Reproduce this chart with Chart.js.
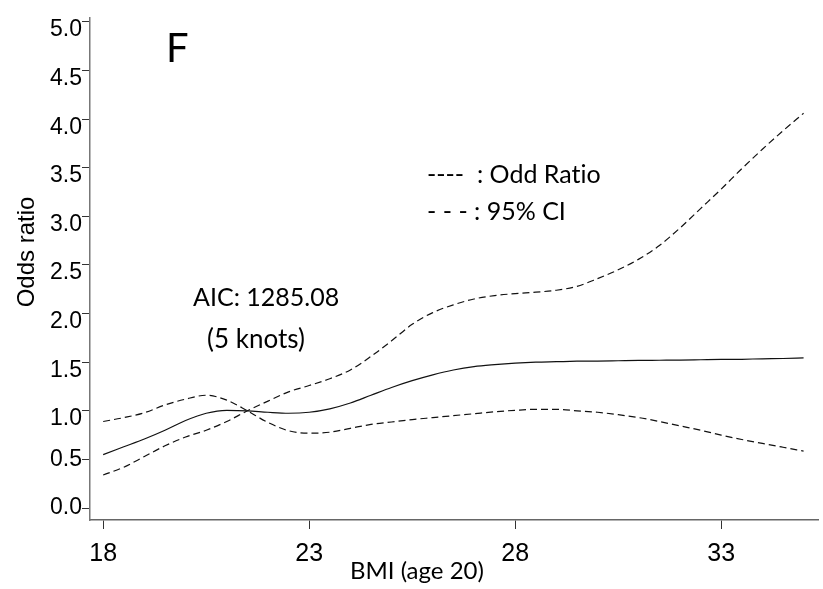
<!DOCTYPE html>
<html>
<head>
<meta charset="utf-8">
<script src="https://cdn.jsdelivr.net/npm/chart.js@4.4.0/dist/chart.umd.min.js"></script>
<style>
  html, body { margin: 0; padding: 0; background: #fff; }
  canvas { display: block; }
</style>
</head>
<body>
<canvas id="splineChart" width="823" height="589"></canvas>
<script>
// BMI at age 20 (x values)
const bmi = [18, 18.5, 19, 19.5, 20, 20.5, 21, 21.5, 22, 22.5, 23, 23.5, 24, 24.5,
    25, 25.5, 26, 26.5, 27, 27.5, 28, 28.5, 29, 29.5, 30, 30.5, 31, 31.5, 32, 32.5,
    33, 33.5, 34, 34.5, 35];

// odds ratio (solid line)
const oddsRatio = [0.55, 0.63, 0.71, 0.80, 0.90, 0.975, 1.005, 1.0, 0.985, 0.975,
    0.985, 1.02, 1.08, 1.16, 1.24, 1.31, 1.37, 1.42, 1.455, 1.475, 1.49, 1.50, 1.505,
    1.51, 1.512, 1.515, 1.518, 1.52, 1.522, 1.525, 1.528, 1.53, 1.535, 1.538, 1.545];

// 95% CI - the band that ends high on the right
const ciHigh = [0.34, 0.42, 0.53, 0.64, 0.73, 0.80, 0.89, 1.0, 1.10, 1.195, 1.26,
    1.33, 1.42, 1.56, 1.72, 1.89, 2.01, 2.09, 2.15, 2.185, 2.205, 2.22, 2.24, 2.28,
    2.36, 2.45, 2.56, 2.70, 2.88, 3.08, 3.28, 3.49, 3.69, 3.88, 4.06];

// 95% CI - the band that ends low on the right
const ciLow = [0.89, 0.93, 0.98, 1.06, 1.12, 1.16, 1.11, 1.0, 0.88, 0.795, 0.77,
    0.78, 0.82, 0.86, 0.885, 0.91, 0.93, 0.95, 0.97, 0.99, 1.005, 1.015, 1.015, 1.0,
    0.985, 0.96, 0.93, 0.89, 0.845, 0.80, 0.75, 0.705, 0.665, 0.625, 0.585];

const xTicks = [18, 23, 28, 33];
const yTicks = [0, 0.5, 1, 1.5, 2, 2.5, 3, 3.5, 4, 4.5, 5];

const toPoints = (ys) => bmi.map((x, i) => ({ x: x, y: ys[i] }));

const lineStyle = {
    borderColor: '#111',
    borderWidth: 1.2,
    pointRadius: 0,
    cubicInterpolationMode: 'monotone',
    fill: false
};

const textPlugin = {
    id: 'figureText',
    afterDraw(chart) {
        const ctx = chart.ctx;
        ctx.save();
        ctx.fillStyle = '#000';
        ctx.textBaseline = 'middle';
        ctx.textAlign = 'left';

        ctx.font = '40px Lato';
        ctx.fillText('F', 166, 49);

        ctx.font = '25px Lato';
        // zero-width non-joiner keeps Lato from using its "ti" ligature
        ctx.fillText('----  : Odd Rat\u200Cio', 427, 175);
        ctx.fillText('- - - : 95% CI', 427, 212);
        ctx.fillText('AIC: 1285.08', 193, 298);
        ctx.font = '26px Lato';
        ctx.fillText('(5 knots)', 207, 340);

        ctx.font = '24px Lato';
        ctx.fillText('BMI (age 20)', 350, 571);

        ctx.translate(27, 252);
        ctx.rotate(-Math.PI / 2);
        ctx.textAlign = 'center';
        ctx.font = '24px "Liberation Sans"';
        ctx.fillText('Odds ratio', 0, 0);
        ctx.restore();
    }
};

const config = {
    type: 'line',
    data: {
        datasets: [
            Object.assign({ label: 'Odd Ratio', data: toPoints(oddsRatio) }, lineStyle),
            Object.assign({ label: '95% CI', data: toPoints(ciHigh), borderDash: [7, 4] }, lineStyle),
            Object.assign({ label: '95% CI', data: toPoints(ciLow), borderDash: [7, 4] }, lineStyle)
        ]
    },
    options: {
        responsive: false,
        animation: false,
        devicePixelRatio: 1,
        layout: { padding: { top: 18, right: 5, left: 0, bottom: 0 } },
        plugins: {
            legend: { display: false },
            tooltip: { enabled: false }
        },
        scales: {
            x: {
                type: 'linear',
                min: 17.68,
                max: 35.35,
                afterBuildTicks: (scale) => { scale.ticks = xTicks.map(v => ({ value: v })); },
                afterFit: (scale) => { scale.height = 69; },
                grid: { display: true, drawOnChartArea: false, drawTicks: true, tickLength: 9, color: '#333' },
                border: { display: true, color: '#666', width: 1.5 },
                ticks: {
                    color: '#000',
                    padding: 10,
                    maxRotation: 0,
                    font: { family: '"Liberation Sans", Arial', size: 25 }
                }
            },
            y: {
                type: 'linear',
                min: -0.123,
                max: 5.04,
                afterBuildTicks: (scale) => { scale.ticks = yTicks.map(v => ({ value: v })); },
                afterFit: (scale) => { scale.width = 90; },
                grid: { display: true, drawOnChartArea: false, drawTicks: true, tickLength: 8, color: '#333' },
                border: { display: true, color: '#777', width: 1.5 },
                ticks: {
                    color: '#000',
                    padding: 0,
                    font: { family: '"Liberation Sans", Arial', size: 23, lineHeight: 0.7 },
                    // labels from 1.0 up sit a little below their tick in the original
                    callback: (v) => v >= 1 ? ['', v.toFixed(1)] : v.toFixed(1)
                }
            }
        }
    },
    plugins: [textPlugin]
};

const splineChart = new Chart(document.querySelector('#splineChart'), config);
</script>
</body>
</html>
